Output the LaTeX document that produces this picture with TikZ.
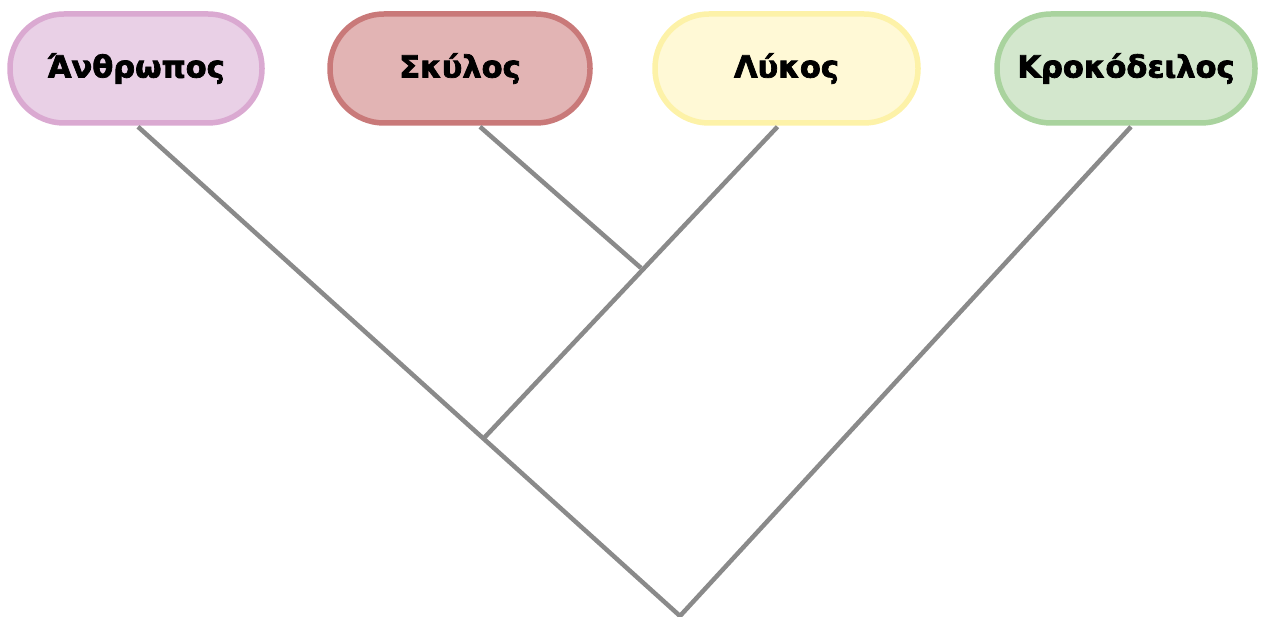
\documentclass[tikz,border=0pt]{standalone}
\usepackage{fontspec}
\setmainfont{DejaVu Sans}[BoldFeatures={FakeBold=2.4}]
\usetikzlibrary{calc}
\definecolor{branch}{HTML}{8A8A8A}
\definecolor{humfill}{HTML}{E9D0E6}
\definecolor{humline}{HTML}{DAA9D1}
\definecolor{dogfill}{HTML}{E2B4B4}
\definecolor{dogline}{HTML}{C97979}
\definecolor{wolffill}{HTML}{FFF9D6}
\definecolor{wolfline}{HTML}{FDF2A8}
\definecolor{crocfill}{HTML}{D3E7CD}
\definecolor{crocline}{HTML}{A9D39E}
\tikzset{
  taxon/.style={rounded corners=54pt, minimum height=109pt, line width=5.5pt,
    inner sep=0pt, font=\fontsize{30.5}{36}\selectfont\bfseries, text=black},
  branchline/.style={draw=branch, line width=4.5pt, line join=miter}
}
\begin{document}
\begin{tikzpicture}[x=1pt,y=-1pt]
\useasboundingbox (0,0) rectangle (1264,617);
% junctions of the tree
\coordinate (j1) at (641,268);
\coordinate (j2) at (484,438);
\coordinate (root) at (680,616);
% taxa
\node[taxon, fill=humfill, draw=humline, minimum width=252pt] (human) at (136,68.5) {Άνθρωπος};
\node[taxon, fill=dogfill, draw=dogline, minimum width=260pt] (dog) at (460,68.5) {Σκύλος};
\node[taxon, fill=wolffill, draw=wolfline, minimum width=263pt] (wolf) at (786.5,68.5) {Λύκος};
\node[taxon, fill=crocfill, draw=crocline, minimum width=258pt] (croc) at (1126,68.5) {Κροκόδειλος};
% branches
\path[branchline] ($(human.south)+(2,1)$) -- (root) -- ($(croc.south)+(5,1)$);
\path[branchline] ($(dog.south)+(20,1)$) -- (j1);
\path[branchline] ($(wolf.south)+(-9,1)$) -- (j2);
\end{tikzpicture}
\end{document}
